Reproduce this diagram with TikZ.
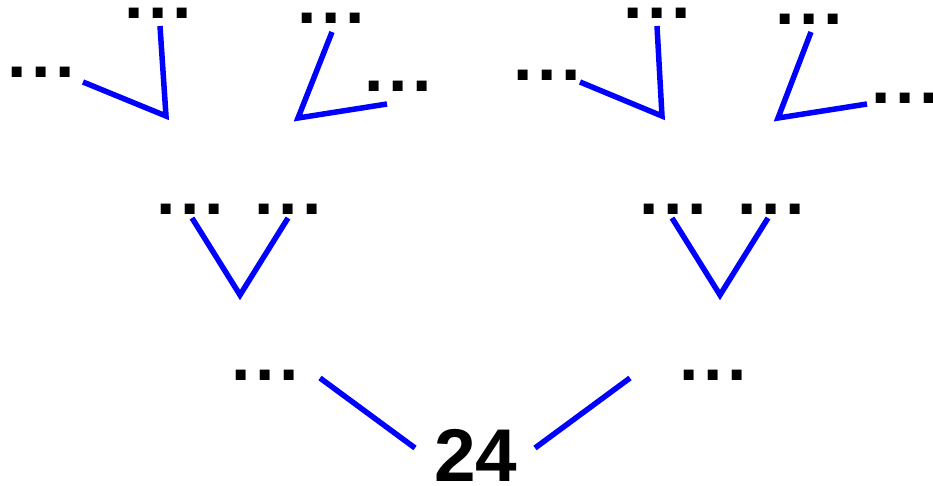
\documentclass[tikz,border=0pt]{standalone}
\usepackage{fontspec}
\setmainfont{Liberation Sans}
\usepackage{tikz}
\definecolor{treeblue}{RGB}{0,0,255}
\newcommand{\gapdotstext}{.\hspace{4.5bp}.\hspace{4.5bp}.}
\tikzset{
  gapdots/.style={inner sep=0pt,font=\fontsize{70}{70}\selectfont\bfseries},
  rootnum/.style={inner sep=0pt,font=\fontsize{75}{75}\selectfont\bfseries},
  branch/.style={draw=treeblue,line width=5.5bp}
}

\begin{document}
\begin{tikzpicture}[x=1bp,y=-1bp]
  \useasboundingbox (0,0) rectangle (933,486);
  % root and first split
  \node[rootnum] (root) at (476,455) {24};
  \node[gapdots] (lowL) at (265,375) {\gapdotstext};
  \node[gapdots] (lowR) at (713,375) {\gapdotstext};
  \coordinate (rootL) at (415,448);
  \coordinate (rootR) at (535,448);
  \coordinate (endL) at (320,378);
  \coordinate (endR) at (630,378);
  \draw[branch] (rootL) -- (endL);
  \draw[branch] (rootR) -- (endR);
  % middle row
  \node[gapdots] (midLL) at (190,209) {\gapdotstext};
  \node[gapdots] (midLR) at (288,209) {\gapdotstext};
  \node[gapdots] (midRL) at (673,209) {\gapdotstext};
  \node[gapdots] (midRR) at (771,209) {\gapdotstext};
  \coordinate (vL) at (240,295);
  \coordinate (vR) at (720,295);
  \coordinate (vLa) at (192,218);
  \coordinate (vLb) at (288,218);
  \coordinate (vRa) at (672,218);
  \coordinate (vRb) at (768,218);
  \draw[branch] (vLa) -- (vL) -- (vLb);
  \draw[branch] (vRa) -- (vR) -- (vRb);
  % top row
  \node[gapdots] (topA1) at (41,72) {\gapdotstext};
  \node[gapdots] (topA2) at (158,13) {\gapdotstext};
  \node[gapdots] (topB1) at (331,18) {\gapdotstext};
  \node[gapdots] (topB2) at (398,86) {\gapdotstext};
  \node[gapdots] (topC1) at (547,75) {\gapdotstext};
  \node[gapdots] (topC2) at (657,13) {\gapdotstext};
  \node[gapdots] (topD1) at (809,19) {\gapdotstext};
  \node[gapdots] (topD2) at (905,98) {\gapdotstext};
  \coordinate (vA) at (166,116);
  \coordinate (vB) at (298,118);
  \coordinate (vC) at (662,116);
  \coordinate (vD) at (778,118);
  \coordinate (vAa) at (83,82);
  \coordinate (vAb) at (160,26);
  \coordinate (vBa) at (332,32);
  \coordinate (vBb) at (387,104);
  \coordinate (vCa) at (580,82);
  \coordinate (vCb) at (657,26);
  \coordinate (vDa) at (811,32);
  \coordinate (vDb) at (867,104);
  \draw[branch] (vAa) -- (vA) -- (vAb);
  \draw[branch] (vBa) -- (vB) -- (vBb);
  \draw[branch] (vCa) -- (vC) -- (vCb);
  \draw[branch] (vDa) -- (vD) -- (vDb);
\end{tikzpicture}
\end{document}
